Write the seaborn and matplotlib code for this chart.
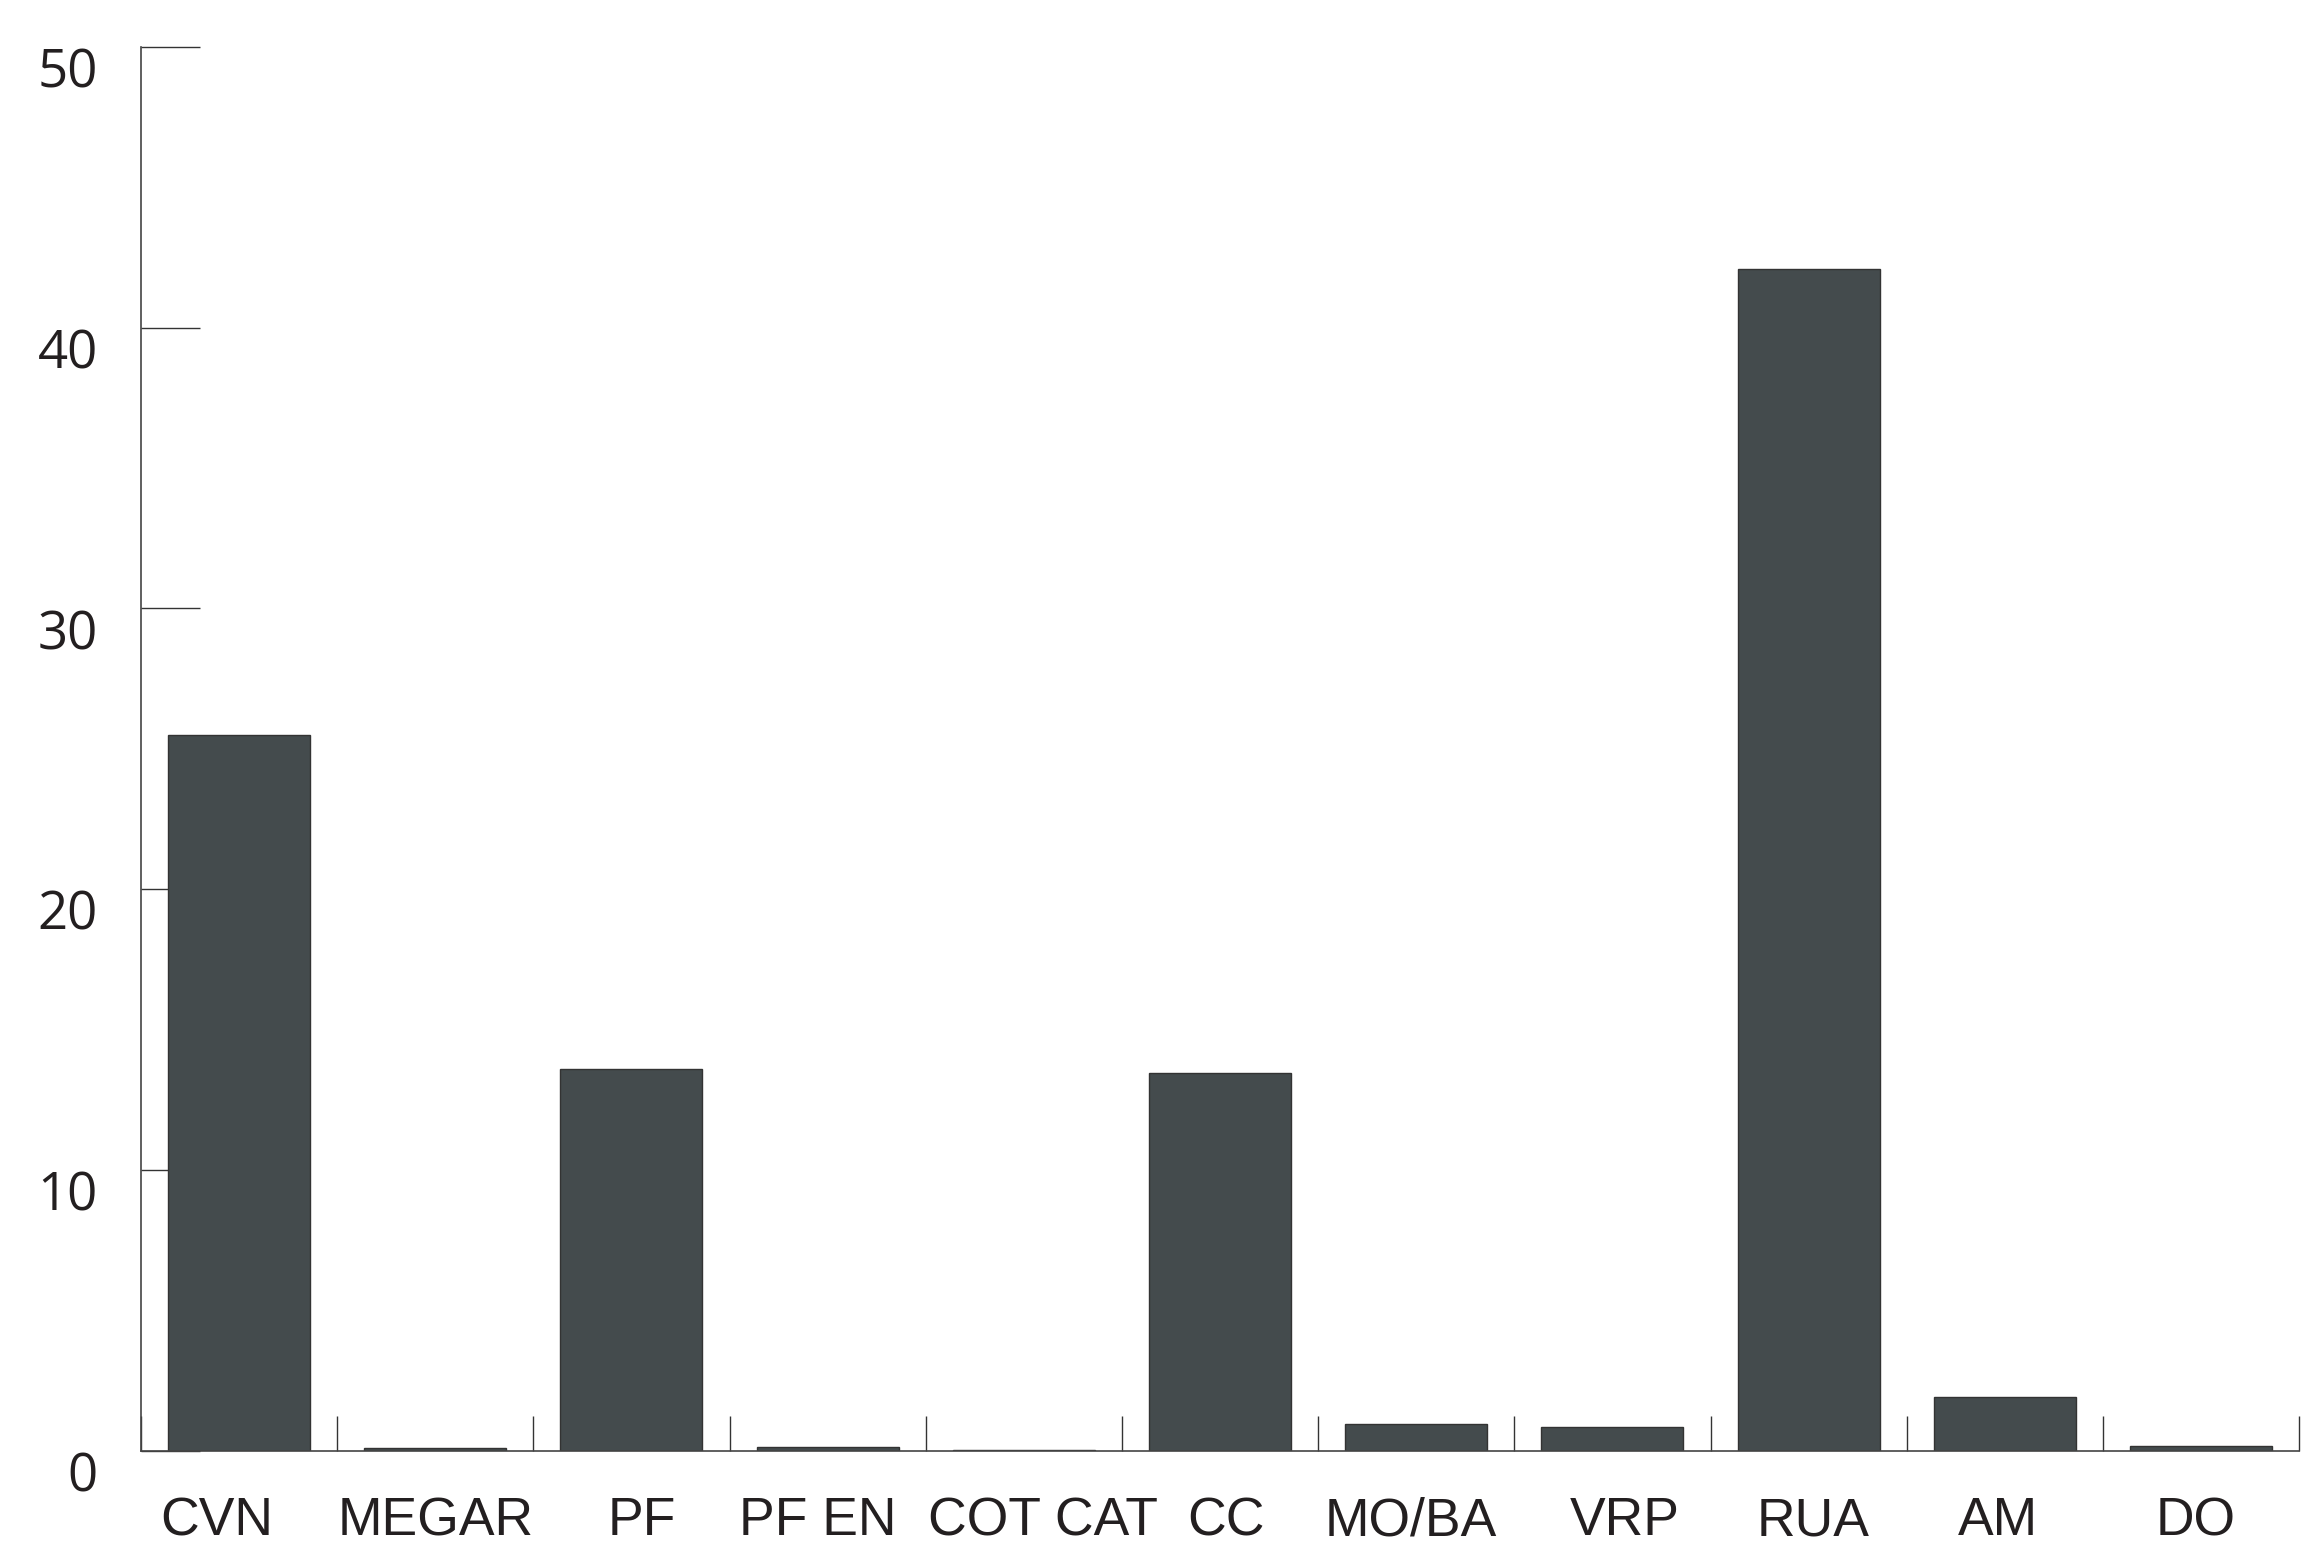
import numpy as np
import pandas as pd
import matplotlib
matplotlib.use('Agg')
import matplotlib.pyplot as plt
import matplotlib.transforms as mtransforms
import seaborn as sns

# --- chart data ---
categories = ['CVN', 'MEGAR', 'PF', 'PF EN', 'COT CAT', 'CC',
              'MO/BA', 'VRP', 'RUA', 'AM', 'DO']
values = [25.5, 0.1, 13.6, 0.12, 0.03, 13.45, 0.95, 0.85, 42.1, 1.92, 0.17]
y_ticks = [0, 10, 20, 30, 40, 50]

# small horizontal nudges (pixels) of the x labels, as placed in the original
label_nudge_px = [-22, 0, 10, -10, 19, 6, -5, 12, 4, -7, -5]

df = pd.DataFrame({'cat': categories, 'val': values})

sns.set_style('white')
plt.rcParams['font.family'] = ['Liberation Sans', 'DejaVu Sans']

fig = plt.figure(figsize=(23.03, 15.57), dpi=100)
ax = fig.add_axes([0.0612, 0.0683, 0.9371, 0.9015])

sns.barplot(data=df, x='cat', y='val', color='#444b4d', saturation=1,
            width=0.724, edgecolor='#333333', linewidth=1.0, ax=ax)

ax.set_ylim(0, 50)
ax.set_xlim(-0.5, len(categories) - 0.5)
ax.set_xlabel('')
ax.set_ylabel('')

# spines
for s in ['top', 'right']:
    ax.spines[s].set_visible(False)
for s in ['left', 'bottom']:
    ax.spines[s].set_color('#444444')
    ax.spines[s].set_linewidth(1.2)

# x axis: labels at centres, short inward ticks at the category borders
ax.set_xticks(range(len(categories)))
ax.set_xticklabels(categories)
ax.set_xticks(np.arange(-0.5, len(categories), 1), minor=True)
ax.tick_params(axis='x', which='both', bottom=True)
ax.tick_params(axis='x', which='major', length=0, pad=33, labelsize=38.5,
               labelcolor='#231f20')
ax.tick_params(axis='x', which='minor', direction='in', length=25,
               width=1.0, color='#333333')
for lab, dx in zip(ax.get_xticklabels(), label_nudge_px):
    shift = mtransforms.ScaledTranslation(dx / 100, 0, fig.dpi_scale_trans)
    lab.set_transform(lab.get_transform() + shift)

# y axis: long inward ticks, labels shifted a bit below their tick
ax.set_yticks(y_ticks)
ax.set_yticklabels([str(t) for t in y_ticks])
ax.tick_params(axis='y', which='major', left=True, direction='in', length=42.5,
               width=1.0, color='#333333', pad=31, labelsize=38,
               labelcolor='#231f20')
offset = mtransforms.ScaledTranslation(0, -0.27, fig.dpi_scale_trans)
for lab in ax.get_yticklabels():
    lab.set_fontfamily(['Open Sans', 'DejaVu Sans'])
    lab.set_verticalalignment('center')
    lab.set_transform(lab.get_transform() + offset)

ax.grid(False)
fig.savefig('out.png', dpi=100, facecolor='white')
